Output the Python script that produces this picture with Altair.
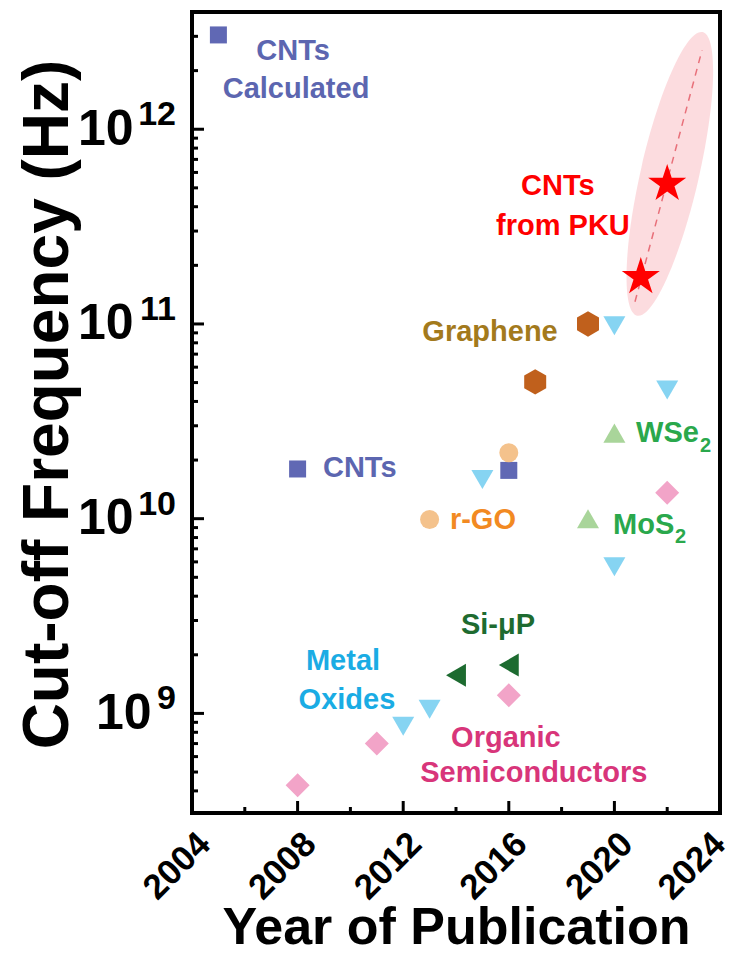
import altair as alt
import pandas as pd

# ---------------- data ----------------
CNT_YEARS = [2005, 2008, 2016]
CNT_VALUES = [3.05e12, 1.8e10, 1.77e10]

RGO_YEARS = [2013, 2016]
RGO_VALUES = [9.9e9, 2.18e10]

GRAPHENE_YEARS = [2017, 2019]
GRAPHENE_VALUES = [5.04e10, 1.0e11]

OXIDE_YEARS = [2012, 2013, 2015, 2020, 2020, 2022]
OXIDE_VALUES = [8.6e8, 1.05e9, 1.59e10, 5.67e9, 9.8e10, 4.58e10]

TMD_YEARS = [2019, 2020]
TMD_VALUES = [1.0e10, 2.75e10]

SI_YEARS = [2014, 2016]
SI_VALUES = [1.57e9, 1.77e9]

ORGANIC_YEARS = [2008, 2011, 2016, 2022]
ORGANIC_VALUES = [4.27e8, 7.0e8, 1.24e9, 1.36e10]

PKU_YEARS = [2021, 2022]
PKU_VALUES = [1.74e11, 5.24e11]

TREND_YEARS = [2020.78, 2023.32]
TREND_VALUES = [1.30e11, 2.55e12]

HALO_YEARS = [2022.1]
HALO_VALUES = [5.9e11]

# annotation labels
CENTER_TEXTS = ["CNTs", "Calculated", "CNTs", "from PKU", "Graphene", "Si-μP",
                "Metal", "Oxides", "Organic", "Semiconductors"]
CENTER_YEARS = [2007.83, 2007.94, 2017.86, 2018.05, 2015.29, 2015.59,
                2009.72, 2009.87, 2015.89, 2016.95]
CENTER_VALUES = [2.52e12, 1.60e12, 5.12e11, 3.19e11, 9.1e10, 2.86e9,
                 1.85e9, 1.17e9, 7.45e8, 4.92e8]
CENTER_COLORS = ["#5c66b0", "#5c66b0", "#ff0000", "#ff0000", "#a37a1c", "#1e6b30",
                 "#1aace4", "#1aace4", "#d8357a", "#d8357a"]

LEFT_TEXTS = ["CNTs", "r-GO", "WSe", "MoS"]
LEFT_YEARS = [2008.96, 2013.77, 2020.82, 2019.95]
LEFT_VALUES = [1.83e10, 9.8e9, 2.77e10, 9.3e9]
LEFT_COLORS = ["#5c66b0", "#f28a22", "#2aa84c", "#2aa84c"]

SUB_TEXTS = ["2", "2"]
SUB_YEARS = [2023.24, 2022.30]
SUB_VALUES = [2.35e10, 8.04e9]
SUB_COLORS = ["#2aa84c", "#2aa84c"]

X_TICKS = [2004, 2008, 2012, 2016, 2020, 2024]
X_MINOR = [2006, 2010, 2014, 2018, 2022]
Y_TICKS = [1e9, 1e10, 1e11, 1e12]
Y_TICK_BASE = "10"
Y_TICK_EXPONENTS = ["9", "10", "11", "12"]
Y_MINOR = [k * 10.0 ** n for n in range(8, 13) for k in range(2, 10)
           if 3.08e8 < k * 10.0 ** n < 4.0e12]

# ---------------- layout / style ----------------
W, H = 528, 801
FONT = "Liberation Sans"

XS = alt.Scale(domain=[2004, 2024], nice=False, zero=False)
YS = alt.Scale(type="log", domain=[3.08e8, 4.0e12], nice=False)

X_AXIS = alt.Axis(values=X_TICKS, format="d", ticks=False, domain=False, grid=False,
                  labelAngle=315, labelAlign="right", labelBaseline="top",
                  labelPadding=13, labelFontSize=35, labelFlush=False,
                  labelOffset={"condition": {"test": "datum.value > 2023", "value": -13},
                               "value": 0},
                  labelOverlap=False, labelBound=False,
                  title="Year of Publication", titleFontSize=52,
                  titleBaseline="alphabetic", titleY=130, titleX=W / 2)
Y_AXIS = alt.Axis(values=Y_TICKS, labelExpr="'%s'" % Y_TICK_BASE, ticks=False,
                  domain=False, grid=False, labelFontSize=50,
                  labelPadding={"condition": {"test": "datum.value < 5e9", "value": 41},
                                "value": 59},
                  labelOverlap=False, labelFlush=False,
                  title="Cut-off Frequency (Hz)", titleFontSize=64, titleAngle=270,
                  titleBaseline="alphabetic", titleAlign="center",
                  titleX=-125, titleY=392)


def df(years, values):
    return pd.DataFrame({"year": years, "value": values})


def X():
    return alt.X("year:Q", scale=XS, axis=X_AXIS)


def Y():
    return alt.Y("value:Q", scale=YS, axis=Y_AXIS)


def enc(chart):
    return chart.encode(x=X(), y=Y())


ELLIPSE = "M0,-1 A0.2,1 0 0,1 0,1 A0.2,1 0 0,1 0,-1 Z"
HEXAGON = "M0,-1 L0.866,-0.5 L0.866,0.5 L0,1 L-0.866,0.5 L-0.866,-0.5 Z"
STAR = ("M0,-1 L0.2245,-0.309 L0.951,-0.309 L0.363,0.118 L0.588,0.809 L0,0.382 "
        "L-0.588,0.809 L-0.363,0.118 L-0.951,-0.309 L-0.2245,-0.309 Z")

halo = enc(alt.Chart(df(HALO_YEARS, HALO_VALUES)).mark_point(
    shape=ELLIPSE, size=84700, angle=13, filled=True, fill="#f9c0c4",
    opacity=0.55, strokeWidth=0))

trend = enc(alt.Chart(df(TREND_YEARS, TREND_VALUES)).mark_line(
    color="#e8707a", strokeWidth=1.5, strokeDash=[7, 6]))


def pts(years, values, shape, size, color):
    return enc(alt.Chart(df(years, values)).mark_point(
        shape=shape, size=size, filled=True, fill=color, opacity=1, strokeWidth=0))


cnt = pts(CNT_YEARS, CNT_VALUES, "square", 289, "#6068b4")
rgo = pts(RGO_YEARS, RGO_VALUES, "circle", 361, "#f4c28c")
graphene = pts(GRAPHENE_YEARS, GRAPHENE_VALUES, HEXAGON, 645, "#c0601c")
oxide = pts(OXIDE_YEARS, OXIDE_VALUES, "triangle-down", 484, "#86d4f2")
tmd = pts(TMD_YEARS, TMD_VALUES, "triangle-up", 484, "#a9d59a")
si = pts(SI_YEARS, SI_VALUES, "triangle-left", 529, "#1d6b30")
organic = pts(ORGANIC_YEARS, ORGANIC_VALUES, "diamond", 576, "#f2a4c8")
pku = pts(PKU_YEARS, PKU_VALUES, STAR, 1600, "#ff0000")

# inward tick marks
y_major = alt.Chart(pd.DataFrame({"value": Y_TICKS})).mark_rule(
    color="black", strokeWidth=3).encode(y=Y(), x=alt.value(0), x2=alt.value(12))
y_minor = alt.Chart(pd.DataFrame({"value": Y_MINOR})).mark_rule(
    color="black", strokeWidth=3).encode(y=Y(), x=alt.value(0), x2=alt.value(6))
x_major = alt.Chart(pd.DataFrame({"year": X_TICKS})).mark_rule(
    color="black", strokeWidth=3).encode(x=X(), y=alt.value(H), y2=alt.value(H - 12))
x_minor = alt.Chart(pd.DataFrame({"year": X_MINOR})).mark_rule(
    color="black", strokeWidth=3).encode(x=X(), y=alt.value(H), y2=alt.value(H - 6))

# superscript exponents of the y tick labels
y_exp = alt.Chart(pd.DataFrame({"value": Y_TICKS, "text": Y_TICK_EXPONENTS})).mark_text(
    font=FONT, fontWeight="bold", fontSize=34, align="right", baseline="alphabetic",
    dy=-4, color="black"
).encode(y=Y(), x=alt.value(-16), text="text:N")


def labels(texts, years, values, colors, align, size):
    return alt.Chart(pd.DataFrame({
        "year": years, "value": values, "text": texts, "color": colors})).mark_text(
        font=FONT, fontWeight="bold", fontSize=size, align=align, baseline="middle"
    ).encode(x=X(), y=Y(), text="text:N", color=alt.Color("color:N", scale=None))


center_lab = labels(CENTER_TEXTS, CENTER_YEARS, CENTER_VALUES, CENTER_COLORS, "center", 29)
left_lab = labels(LEFT_TEXTS, LEFT_YEARS, LEFT_VALUES, LEFT_COLORS, "left", 29)
sub_lab = labels(SUB_TEXTS, SUB_YEARS, SUB_VALUES, SUB_COLORS, "left", 20)

chart = alt.layer(
    halo, trend, y_major, y_minor, x_major, x_minor,
    cnt, rgo, graphene, oxide, tmd, si, organic, pku,
    center_lab, left_lab, sub_lab, y_exp
).properties(
    width=W, height=H,
    autosize=alt.AutoSizeParams(type="none"),
    padding={"left": 184, "top": 4, "right": 12, "bottom": 140},
    background="white"
).configure_view(
    stroke="black", strokeWidth=4
).configure_axis(
    labelFont=FONT, labelFontWeight="bold", labelColor="black",
    titleFont=FONT, titleFontWeight="bold", titleColor="black"
)

chart.save("out.html", embed_options={"renderer": "svg", "actions": False})
